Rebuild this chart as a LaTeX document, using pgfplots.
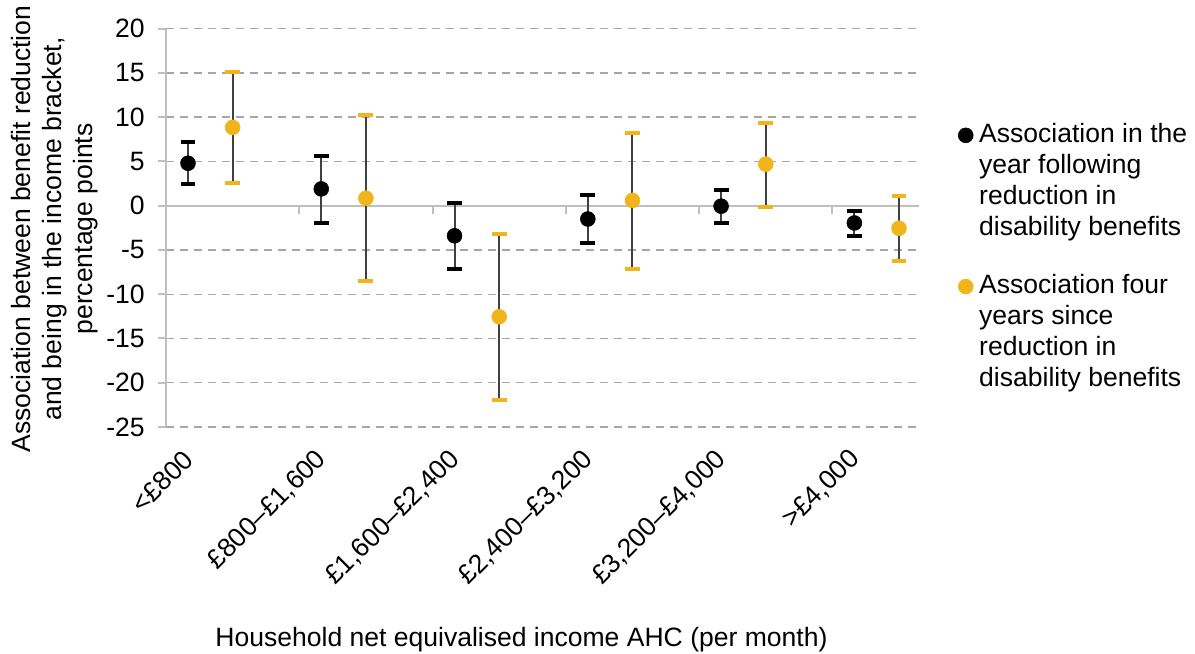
\documentclass[border=0pt]{standalone}
\usepackage{fontspec}
\setmainfont{Liberation Sans}
\usepackage{pgfplots}
\pgfplotsset{compat=1.18}
\usepackage{pgfplotstable}
\definecolor{ifsorange}{RGB}{241,181,27}
\definecolor{gridgray}{RGB}{166,166,166}
\definecolor{axisgray}{RGB}{191,191,191}
\definecolor{bargray}{RGB}{64,64,64}

\pgfplotstableread{
x y ep em
0.165 4.80 2.40 2.40
1.165 1.90 3.70 3.80
2.165 -3.40 3.75 3.80
3.165 -1.50 2.70 2.75
4.165 -0.05 1.85 1.95
5.165 -1.95 1.40 1.45
}\blackdata

\pgfplotstableread{
x y ep em
0.5 8.85 6.25 6.30
1.5 0.85 9.35 9.35
2.5 -12.55 9.30 9.35
3.5 0.60 7.65 7.70
4.5 4.70 4.70 4.85
5.5 -2.55 3.70 3.70
}\orangedata

\begin{document}
\begin{tikzpicture}[font=\fontsize{19.9}{23.25}\selectfont]
\useasboundingbox (-124.5pt,-169.5pt) rectangle (771.75pt,320.25pt);
\begin{axis}[
  at={(0pt,0pt)}, anchor=south west,
  scale only axis, width=564.75pt, height=298.725pt,
  xmin=0, xmax=5.65, ymin=-25, ymax=20,
  axis lines*=left,
  x axis line style={draw=none},
  y axis line style={draw=axisgray, line width=1.5pt},
  xtick={0.165,1.165,2.165,3.165,4.165,5.165},
  xticklabels={{<£800},{£800–£1,600},{£1,600–£2,400},{£2,400–£3,200},{£3,200–£4,000},{>£4,000}},
  x tick style={draw=none},
  xticklabel style={inner sep=0pt, xshift=0.75pt, yshift=-15pt, rotate=45, anchor=east},
  ytick={-25,-20,...,20},
  y tick style={draw=axisgray, line width=1.5pt},
  tick align=outside,
  major tick length=6pt,
  ymajorgrids,
  major grid style={draw=gridgray, line width=1.1pt, dash pattern=on 6.2pt off 4.3pt},
  extra y ticks={0},
  extra y tick labels={},
  extra y tick style={grid=major, major grid style={draw=axisgray, solid, line width=1.5pt}},
  /pgf/number format/assume math mode=true,
  yticklabel style={inner sep=0pt, anchor=east, xshift=-9.75pt},
  clip=false,
  legend cell align=left,
  legend style={at={(1.0518,0.7628)}, anchor=north west, draw=none, fill=none,
    inner sep=0pt, row sep=97.5pt, column sep=4.5pt,
    nodes={inner sep=0pt}, cells={anchor=base west}},
  legend image code/.code={\draw plot coordinates {(0pt,5.5pt)};},
]
\addplot[only marks, mark=*, mark size=5.6pt, mark options={draw=black, fill=black},
  error bars/.cd, y dir=both, y explicit,
  error bar style={draw=bargray, line width=1.5pt},
  error mark options={rotate=90, draw=black, line width=3pt, mark size=5.6pt}]
  table[x=x, y=y, y error plus=ep, y error minus=em] {\blackdata};
\addlegendentry{\vtop{\hbox{Association in the}\hbox{year following}\hbox{reduction in}\hbox{disability benefits}}}
\addplot[only marks, mark=*, mark size=5.6pt, mark options={draw=ifsorange, fill=ifsorange},
  error bars/.cd, y dir=both, y explicit,
  error bar style={draw=bargray, line width=1.5pt},
  error mark options={rotate=90, draw=ifsorange, line width=3pt, mark size=5.6pt}]
  table[x=x, y=y, y error plus=ep, y error minus=em] {\orangedata};
\addlegendentry{\vtop{\hbox{Association four}\hbox{years since}\hbox{reduction in}\hbox{disability benefits}}}
\pgfplotsinvokeforeach{1,2,3,4,5}{
  \draw[axisgray, line width=1.5pt] (axis cs:#1,0) -- ++(0pt,-6pt);
}
\end{axis}
\node[rotate=90, align=center, anchor=center] at (-83.25pt,148.5pt)
  {Association between benefit reduction\\and being in the income bracket,\\percentage points};
\node[anchor=base] at (266.6pt,-164.6pt) {Household net equivalised income AHC (per month)};
\end{tikzpicture}
\end{document}
